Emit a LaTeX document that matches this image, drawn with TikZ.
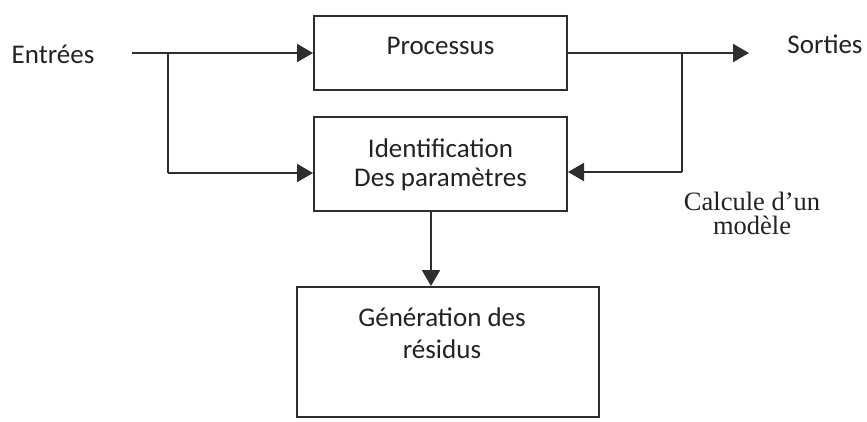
\documentclass[tikz,border=0pt]{standalone}
\usepackage{fontspec}
\setmainfont{Carlito}
\newfontfamily\timesf{Liberation Serif}
\usetikzlibrary{arrows.meta}
\definecolor{ln}{HTML}{2E2E2E}
\definecolor{tx}{HTML}{222222}
\tikzset{
  box/.style={draw=ln, line width=2pt, rectangle, inner sep=0pt},
  conn/.style={draw=ln, line width=2pt},
  arr/.style={conn, -{Triangle[length=16pt,width=18pt]}},
  lbl/.style={text=tx, anchor=base, inner sep=0pt, font=\fontsize{27}{29}\selectfont},
  tlbl/.style={text=tx, anchor=base, inner sep=0pt, font=\timesf\fontsize{26.5}{28}\selectfont}
}
\begin{document}
\begin{tikzpicture}[x=1pt,y=-1pt]
\useasboundingbox (0,0) rectangle (867,421);
% boxes
\node[box, minimum width=253pt, minimum height=74pt] (proc) at (440.5,53) {};
\node[box, minimum width=253pt, minimum height=94pt] (ident) at (440.5,164) {};
\node[box, minimum width=302pt, minimum height=130pt] (gen) at (448,352) {};
% texts
\node[lbl] (tproc) at (440.5,54) {Processus};
\node[lbl] (tid1) at (440.5,157) {Identification};
\node[lbl] (tid2) at (440.5,186) {Des paramètres};
\node[lbl] (tgen1) at (442,326) {Génération des};
\node[lbl] (tgen2) at (442,358) {résidus};
\node[lbl] (tin) at (53,63) {Entrées};
\node[lbl] (tout) at (825,53) {Sorties};
\node[tlbl] (tcal1) at (752,210) {Calcule d’un};
\node[tlbl] (tcal2) at (752,234) {modèle};
% connector points
\coordinate (in) at (132,53);
\coordinate (b1) at (167.7,53);
\coordinate (b1d) at (167.7,173);
\coordinate (out) at (749,53);
\coordinate (b2) at (682,53);
\coordinate (b2d) at (682,172);
\coordinate (dx) at (431,0);
% connectors
\draw[arr] (in) -- (proc.west);
\draw[conn] (b1) -- (b1d);
\draw[arr] (b1d) -- (b1d -| ident.west);
\draw[arr] (proc.east) -- (out);
\draw[conn] (b2) -- (b2d);
\draw[arr] (b2d) -- (b2d -| ident.east);
\draw[arr] (ident.south -| dx) -- (gen.north -| dx);
\end{tikzpicture}
\end{document}
